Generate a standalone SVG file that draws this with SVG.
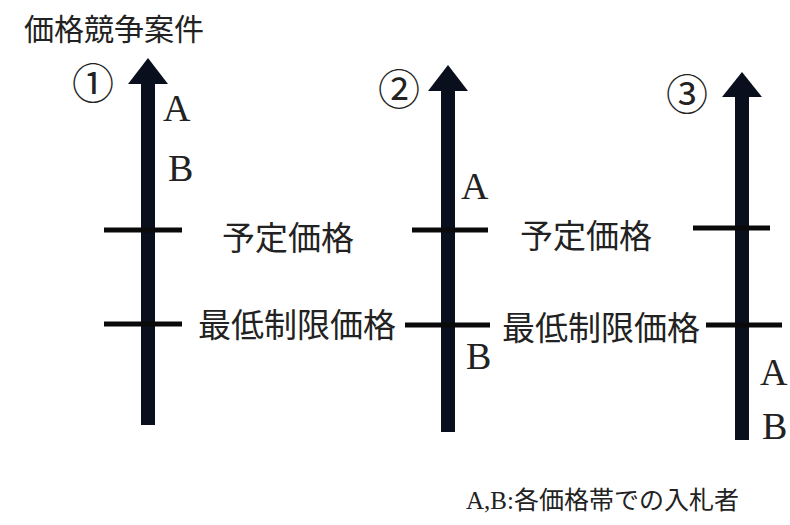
<svg xmlns="http://www.w3.org/2000/svg" width="790" height="525" viewBox="0 0 790 525">
<style>
.t{font-family:"Liberation Serif","Noto Sans CJK JP",serif;fill:#222;}
.lbl{font-size:33px;}
.ab{font-size:38px;}
.num{font-size:42px;}
.tick{stroke:#0a0a0a;stroke-width:5;}
.arr{fill:#0a0f1e;}
</style>
<rect width="790" height="525" fill="#fff"/>
<text class="t" x="24" y="40" font-size="30">価格競争案件</text>
<g id="connectors">
  <g id="arrow1">
    <rect class="arr" x="141" y="80" width="14" height="345"/>
    <polygon class="arr" points="148,58 168,84 128,84"/>
    <line class="tick" x1="104" y1="230" x2="182" y2="230"/>
    <line class="tick" x1="104" y1="324" x2="182" y2="324"/>
  </g>
  <g id="arrow2">
    <rect class="arr" x="441" y="86" width="14" height="346"/>
    <polygon class="arr" points="448,65 468,91 428,91"/>
    <line class="tick" x1="412" y1="230" x2="488" y2="230"/>
    <line class="tick" x1="405" y1="325" x2="490" y2="325"/>
  </g>
  <g id="arrow3">
    <rect class="arr" x="735" y="92" width="14" height="348"/>
    <polygon class="arr" points="742,72 762,97 722,97"/>
    <line class="tick" x1="693" y1="228" x2="770" y2="228"/>
    <line class="tick" x1="706" y1="325" x2="782" y2="325"/>
  </g>
</g>
<g id="case1">
  <text class="t num" x="93" y="99" text-anchor="middle">①</text>
  <text class="t ab" x="163" y="121">A</text>
  <text class="t ab" x="168" y="181">B</text>
  <text class="t lbl" x="222" y="250" font-size="34">予定価格</text>
  <text class="t lbl" x="198" y="337">最低制限価格</text>
</g>
<g id="case2">
  <text class="t num" x="399" y="105" text-anchor="middle">②</text>
  <text class="t ab" x="461" y="199">A</text>
  <text class="t ab" x="466" y="369">B</text>
  <text class="t lbl" x="520" y="248" font-size="35">予定価格</text>
  <text class="t lbl" x="502" y="340">最低制限価格</text>
</g>
<g id="case3">
  <text class="t num" x="687" y="110" text-anchor="middle">③</text>
  <text class="t ab" x="760" y="385">A</text>
  <text class="t ab" x="762" y="439">B</text>
</g>
<text class="t" x="466" y="509" font-size="25">A,B:各価格帯での入札者</text>
</svg>
